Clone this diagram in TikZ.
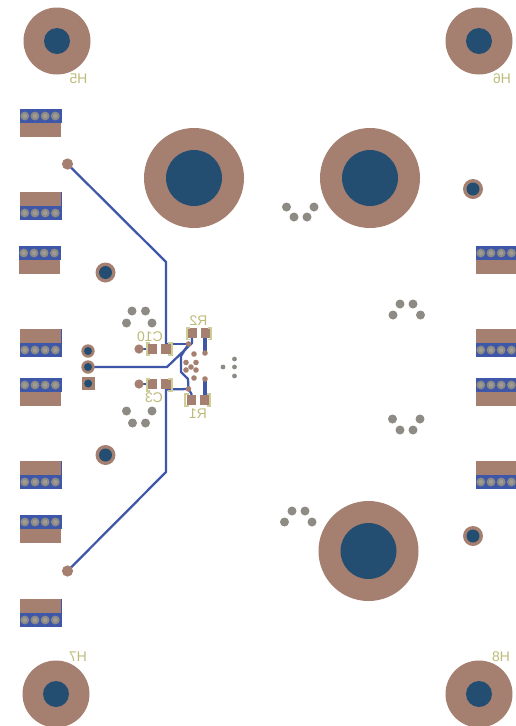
\documentclass[tikz,border=0pt]{standalone}
\usepackage{fontspec}
\setmainfont{Liberation Sans}
\definecolor{tan}{HTML}{A58070}
\definecolor{hole}{HTML}{234E72}
\definecolor{cu}{HTML}{3F57A9}
\definecolor{via}{HTML}{8E8A84}
\definecolor{silk}{HTML}{CFCD96}
\definecolor{silktxt}{HTML}{BDBB78}
\tikzset{
 trace/.style={draw=cu,line width=1.7pt,line join=round},
 fat/.style={draw=cu,line width=3pt},
 brk/.style={draw=silk,line width=1.2pt},
 lbl/.style={text=silktxt,font=\fontsize{10.5}{12}\selectfont,xscale=-1,transform shape,inner sep=0pt},
}
\newcommand{\hdr}[4]{% x-left, y-top, blue-first(1)/tan-first(0), width
 \ifnum#3=1
  \fill[cu] (#1,#2) rectangle +(#4,14);
  \fill[tan] (#1,#2+13.5) rectangle +(#4-0.7,14.5);
  \foreach \k in {0,1,2,3} \fill[via] (#1+4.8+10.2*\k,#2+7) circle (4.4);
  \foreach \k in {0,1,2,3} \fill[via!85!white] (#1+4.8+10.2*\k,#2+7) circle (2.2);
 \else
  \fill[cu] (#1,#2+14) rectangle +(#4,14);
  \fill[cu] (#1+#4-0.7,#2) rectangle +(0.7,14);
  \fill[tan] (#1,#2) rectangle +(#4-0.7,14);
  \foreach \k in {0,1,2,3} \fill[via] (#1+4.8+10.2*\k,#2+21) circle (4.4);
  \foreach \k in {0,1,2,3} \fill[via!85!white] (#1+4.8+10.2*\k,#2+21) circle (2.2);
 \fi}
\newcommand{\rhole}[4]{\fill[tan] (#1,#2) circle (#3); \fill[hole] (#1,#2) circle (#4);}
\newcommand{\pad}[2]{\fill[tan] (#1-4.7,#2-4.7) rectangle (#1+4.7,#2+4.7);}
\begin{document}
\begin{tikzpicture}[x=0.75pt,y=-0.75pt]
\useasboundingbox[fill=white] (0,0) rectangle (516,726);
% headers left
\hdr{20}{109}{1}{42}
\hdr{20}{192}{0}{42}
\hdr{19}{246}{1}{42}
\hdr{20}{329}{0}{42}
\hdr{20}{378}{1}{42}
\hdr{20}{461}{0}{42}
\hdr{20}{515}{1}{42}
\hdr{20}{599}{0}{42}
% headers right
\hdr{476}{246}{1}{41}
\hdr{476}{329}{0}{41}
\hdr{476}{378}{1}{41}
\hdr{476}{461}{0}{41}
% mounting holes
\rhole{57}{41}{33.5}{13}
\rhole{479}{41}{33.5}{13}
\rhole{56}{694}{33.5}{13}
\rhole{479}{694}{33.5}{13}
\rhole{194}{178}{50}{28}
\rhole{370}{178}{50}{28}
\rhole{368.5}{551}{50}{28}
\rhole{473}{189}{10}{6.5}
\rhole{473}{536}{10}{6.5}
\rhole{105.5}{272.5}{10}{6.5}
\rhole{105.5}{455}{10}{6.5}
% gray vias
\foreach \a/\b in {286.5/207,294/217,307/217,314/207,400/304,413/304,393/315,420.5/315,392.5/419,420/419,400/430,413/430,292/511,305/511,284.5/522,312/522,132/311,145.5/311,126.5/323,152/323,126.5/411,152/411,132.5/423,145.5/423}
  \fill[via] (\a,\b) circle (4.5);
\foreach \a/\b in {223/367,234.5/359,234.5/367,234.5/376}
  \fill[via] (\a,\b) circle (2.4);
% traces
\coordinate (vt) at (67.5,164);
\coordinate (vb) at (67.5,571);
\coordinate (vr2) at (188.5,344);
\coordinate (vr1) at (188.5,389);
\draw[trace] (vt) -- (166,262) -- (166,349);
\draw[trace] (vb) -- (166,472) -- (166,384);
\draw[trace] (88,367) -- (167,367) -- (192,343) -- (192,333);
\draw[trace] (166,344) -- (vr2);
\draw[trace] (166,389.5) -- (vr1);
\draw[trace] (vr2) -- (181,356) -- (181,372) -- (188,379) -- (vr1) -- (191.5,394) -- (191.5,400);
\draw[trace] (139,349) -- (152,349);
\draw[trace] (139,384) -- (152,384);
\draw[fat] (205,333) -- (205,353);
\draw[fat] (204.5,379) -- (204.5,400);
% end pads
\fill[tan] (vt) circle (5.6);
\fill[tan] (vb) circle (5.6);
\foreach \a/\b in {139/349,139/384} \fill[tan] (\a,\b) circle (4.6);
\foreach \a/\b in {188.5/344,188.5/389,205/353,205/379} \fill[tan] (\a,\b) circle (2.8);
\foreach \a/\b in {194/354,186/362.5,196/362.5,191/367,186/370,196/370,194/378} \fill[tan] (\a,\b) circle (2.8);
% header pins
\rhole{88}{351}{6.7}{4}
\rhole{88}{367}{6.7}{4}
\fill[tan] (81.7,377) rectangle (94.7,390);
\fill[hole] (88.2,383.5) circle (4);
% pads
\pad{152}{349}\pad{166}{349}
\pad{152}{384}\pad{166}{384}
\pad{192.5}{333}\pad{205.5}{333}
\pad{191.5}{400}\pad{204.5}{400}
% silk brackets
\draw[brk] (150,343.2) -- (146.7,343.2) -- (146.7,355) -- (150,355);
\draw[brk] (168,343.2) -- (171.7,343.2) -- (171.7,355) -- (168,355);
\draw[brk] (150,379) -- (146.7,379) -- (146.7,390.7) -- (150,390.7);
\draw[brk] (168,379) -- (171.7,379) -- (171.7,390.7) -- (168,390.7);
\draw[brk] (190,327.7) -- (186.7,327.7) -- (186.7,339.3) -- (190,339.3);
\draw[brk] (207.5,327.7) -- (211,327.7) -- (211,339.3) -- (207.5,339.3);
\draw[brk] (188.5,394) -- (185,394) -- (185,405.7) -- (188.5,405.7);
\draw[brk] (206.5,394) -- (210,394) -- (210,405.7) -- (206.5,405.7);
% labels
\node[lbl] (h5) at (78.5,79) {H5};
\node[lbl] (h6) at (502,79) {H6};
\node[lbl] (h7) at (78,657) {H7};
\node[lbl] (h8) at (501,657) {H8};
\node[lbl] (c10) at (150,336.5) {C10};
\node[lbl] (c3) at (154,398) {C3};
\node[lbl] (r2) at (198.5,321) {R2};
\node[lbl] (r1) at (198,413.5) {R1};
\end{tikzpicture}
\end{document}
